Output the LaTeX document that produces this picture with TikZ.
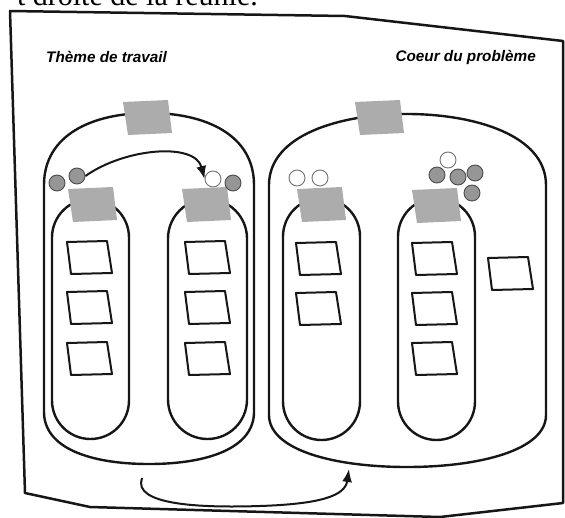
\documentclass[tikz,border=0pt]{standalone}
\usepackage{fontspec}
\setmainfont{Liberation Serif}
\newfontfamily\labelfont{Liberation Sans}
\usetikzlibrary{arrows.meta}

\definecolor{ink}{RGB}{22,22,22}
\definecolor{tabgray}{RGB}{172,172,172}
\definecolor{dotgray}{RGB}{150,150,150}

\tikzset{
  board/.style={draw=ink, line width=2.5pt, line join=round},
  outline/.style={draw=ink, line width=2.4pt, line join=round},
  lane/.style={draw=ink, line width=2.4pt},
  notebox/.style={draw=ink, fill=white, line width=2pt, line join=round},
  graydot/.style={circle, draw=black!70, fill=dotgray, line width=0.9pt, minimum size=16pt, inner sep=0pt},
  whitedot/.style={circle, draw=black!55, fill=white, line width=0.9pt, minimum size=16pt, inner sep=0pt},
  flow/.style={draw=ink, line width=2pt, -{Latex[length=13pt,width=10pt]}},
  title/.style={font=\labelfont\bfseries\itshape\fontsize{15.3}{17}\selectfont, inner sep=0pt},
  sticky/.pic={\draw[notebox] (0,0) -- (40,-1) -- (45,31) -- (4,32) -- cycle;},
  graytab/.pic={\fill[tabgray] (0,2) -- (45,0) -- (49,33) -- (5,35) -- cycle;},
}

\begin{document}
\begin{tikzpicture}[x=1pt,y=-1pt]
\useasboundingbox (0,0) rectangle (565,517);
\clip (0,0) rectangle (565,517);

% caption line running off the top edge
\node[anchor=base east, inner sep=0pt, font=\fontsize{30}{32}\selectfont] (caption) at (258,5) {t droite de la réunie.};

% board outline
\draw[board] (10,11) -- (345,16) -- (563,41) -- (563,503) -- (440,517) -- (90,507) -- (25,493) -- cycle;

% titles
\node[title, anchor=west] (themeTitle) at (46,57) {Thème de travail};
\node[title, anchor=east] (coreTitle) at (536,57) {Coeur du problème};

% two big groups
\draw[outline] (44,412) -- (44,185) .. controls (44,135) and (92,113) .. (149,113)
  .. controls (206,113) and (254,135) .. (254,185) -- (254,412)
  .. controls (254,448) and (208,464) .. (149,464)
  .. controls (90,464) and (44,448) .. (44,412) -- cycle;
\draw[outline] (269,415) -- (269,185) .. controls (269,135) and (340,114) .. (407,114)
  .. controls (474,114) and (546,135) .. (546,185) -- (546,415)
  .. controls (546,450) and (480,467) .. (407,467)
  .. controls (334,467) and (269,450) .. (269,415) -- cycle;

% lanes
\draw[lane, rounded corners=38.5pt] (52,199) rectangle (129,439);
\draw[lane, rounded corners=39.5pt] (168,199) rectangle (247,439);
\draw[lane, rounded corners=38.5pt] (283,198) rectangle (360,440);
\draw[lane, rounded corners=38.5pt] (398,198) rectangle (475,440);

% gray labels
\pic at (123,100) {graytab};
\pic at (355,100) {graytab};
\pic at (68,187) {graytab};
\pic at (182,187) {graytab};
\pic at (297,187) {graytab};
\pic at (412,188) {graytab};

% cards
\pic at (67,242) {sticky};
\pic at (67,292) {sticky};
\pic at (67,343) {sticky};
\pic at (185,242) {sticky};
\pic at (185,292) {sticky};
\pic at (185,343) {sticky};
\pic at (296,243) {sticky};
\pic at (296,293) {sticky};
\pic at (412,243) {sticky};
\pic at (412,293) {sticky};
\pic at (412,343) {sticky};
\pic at (488,258) {sticky};

% tokens
\node[graydot] (g1) at (57,183) {};
\node[graydot] (g2) at (77,176) {};
\node[whitedot] (w1) at (213,179) {};
\node[graydot] (g3) at (233,183) {};
\node[whitedot] (w2) at (297,178) {};
\node[whitedot] (w3) at (320,178) {};
\node[whitedot] (w4) at (448,160) {};
\node[graydot] (g4) at (437,175) {};
\node[graydot] (g5) at (458,177) {};
\node[graydot] (g6) at (475,173) {};
\node[graydot] (g7) at (472,193) {};

% moves
\draw[flow] (g2.east) .. controls (125,148) and (195,142) .. (w1.west);
\coordinate (loopStart) at (142,478);
\coordinate (loopLow) at (260,506);
\coordinate (loopEnd) at (349,469);
\draw[flow] (loopStart) .. controls (132,505) and (200,508) .. (loopLow)
  .. controls (320,504) and (345,496) .. (loopEnd);
\end{tikzpicture}
\end{document}
